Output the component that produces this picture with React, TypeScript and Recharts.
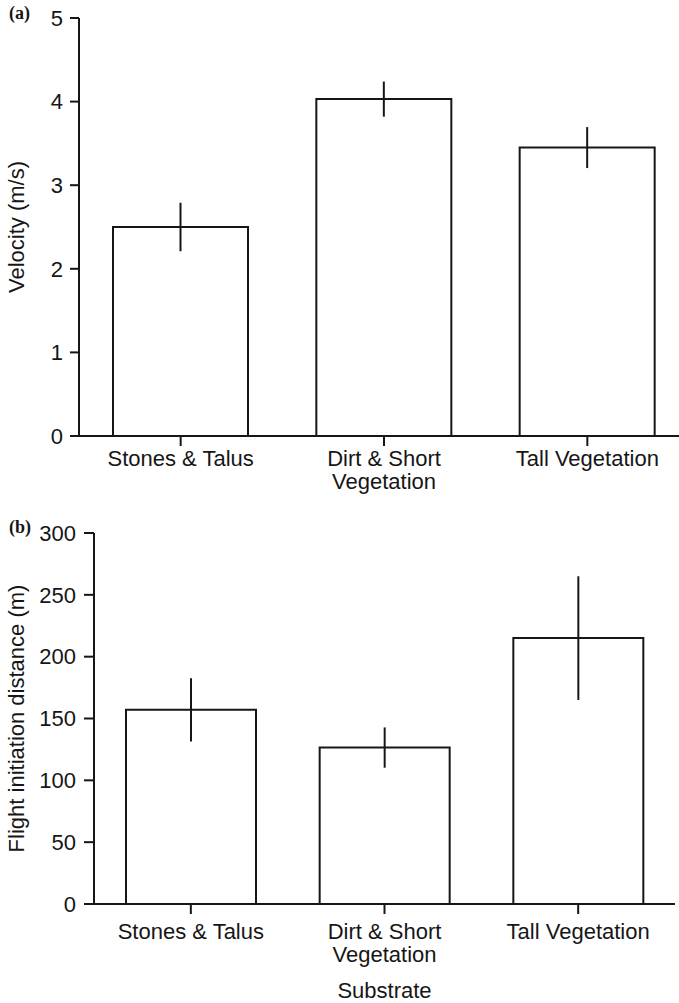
import React from 'react';
import { Bar, BarChart, ErrorBar, XAxis, YAxis } from 'recharts';

// substrate categories shared by both panels
const substrates = ['Stones & Talus', 'Dirt & Short Vegetation', 'Tall Vegetation'];
const substrateLines = [['Stones & Talus'], ['Dirt & Short', 'Vegetation'], ['Tall Vegetation']];

// (a) escape velocity, mean and error
const velocity = [2.5, 4.03, 3.45];
const velocityErr = [0.29, 0.21, 0.245];
const velocityTicks = [0, 1, 2, 3, 4, 5];

// (b) flight initiation distance, mean and error
const fid = [157, 126.5, 215];
const fidErr = [25.5, 16.3, 50];
const fidTicks = [0, 50, 100, 150, 200, 250, 300];

const INK = '#161616';
const FONT = '"Liberation Sans", Arial, Helvetica, sans-serif';
const FS = 22;

const velocityData = substrates.map((name, i) => ({ name, value: velocity[i], err: velocityErr[i] }));
const fidData = substrates.map((name, i) => ({ name, value: fid[i], err: fidErr[i] }));

function makeTick(lineHeight: number) {
  return function CategoryTick(props: any) {
    const { x, y, payload } = props;
    const lines = substrateLines[substrates.indexOf(payload.value)] || [payload.value];
    return (
      <text x={x} y={y} textAnchor="middle" fill={INK} fontFamily={FONT} fontSize={FS}>
        {lines.map((line, i) => (
          <tspan key={line} x={x} dy={i === 0 ? '0.72em' : lineHeight}>
            {line}
          </tspan>
        ))}
      </text>
    );
  };
}

function yLabel(text: string) {
  return {
    content: (props: any) => {
      const vb = props.viewBox || {};
      const cy = vb.y + vb.height / 2;
      return (
        <text
          x={24}
          y={cy}
          transform={`rotate(-90, 24, ${cy})`}
          textAnchor="middle"
          fill={INK}
          fontFamily={FONT}
          fontSize={FS}
        >
          {text}
        </text>
      );
    },
  };
}

const panelTag: React.CSSProperties = {
  position: 'absolute',
  fontFamily: '"Liberation Serif", "Times New Roman", serif',
  fontWeight: 'bold',
  fontSize: 18,
  lineHeight: '18px',
  color: INK,
};

export default function App() {
  return (
    <div
      style={{
        position: 'fixed',
        left: 0,
        top: 0,
        width: 679,
        height: 1003,
        overflow: 'hidden',
        background: '#fff',
      }}
    >
      <div style={{ position: 'absolute', left: 0, top: 0 }}>
        <BarChart width={700} height={500} data={velocityData} margin={{ top: 18, right: 11, left: 0, bottom: 4 }}>
          <XAxis
            dataKey="name"
            height={60}
            interval={0}
            tickSize={10}
            tickMargin={4}
            axisLine={{ stroke: INK, strokeWidth: 2 }}
            tickLine={{ stroke: INK, strokeWidth: 2 }}
            tick={makeTick(23)}
          />
          <YAxis
            width={79}
            domain={[0, 5]}
            ticks={velocityTicks}
            interval={0}
            tickSize={9}
            tickMargin={7}
            axisLine={{ stroke: INK, strokeWidth: 2 }}
            tickLine={{ stroke: INK, strokeWidth: 2 }}
            tick={{ fill: INK, fontFamily: FONT, fontSize: FS }}
            label={yLabel('Velocity (m/s)')}
          />
          <Bar dataKey="value" barSize={135} fill="#fff" stroke={INK} strokeWidth={2} isAnimationActive={false}>
            <ErrorBar dataKey="err" width={0} stroke={INK} strokeWidth={2} isAnimationActive={false} />
          </Bar>
        </BarChart>
      </div>

      <div style={{ position: 'absolute', left: 0, top: 500 }}>
        <BarChart width={679} height={503} data={fidData} margin={{ top: 33, right: 4, left: 0, bottom: 3 }}>
          <XAxis
            dataKey="name"
            height={96}
            interval={0}
            tickSize={10}
            tickMargin={9}
            axisLine={{ stroke: INK, strokeWidth: 2 }}
            tickLine={{ stroke: INK, strokeWidth: 2 }}
            tick={makeTick(23)}
            label={{
              content: (props: any) => {
                const vb = props.viewBox || {};
                return (
                  <text
                    x={vb.x + vb.width / 2}
                    y={vb.y + 94}
                    textAnchor="middle"
                    fill={INK}
                    fontFamily={FONT}
                    fontSize={FS}
                  >
                    Substrate
                  </text>
                );
              },
            }}
          />
          <YAxis
            width={94}
            domain={[0, 300]}
            ticks={fidTicks}
            interval={0}
            tickSize={10}
            tickMargin={8}
            axisLine={{ stroke: INK, strokeWidth: 2 }}
            tickLine={{ stroke: INK, strokeWidth: 2 }}
            tick={{ fill: INK, fontFamily: FONT, fontSize: FS }}
            label={yLabel('Flight initiation distance (m)')}
          />
          <Bar dataKey="value" barSize={130} fill="#fff" stroke={INK} strokeWidth={2} isAnimationActive={false}>
            <ErrorBar dataKey="err" width={0} stroke={INK} strokeWidth={2} isAnimationActive={false} />
          </Bar>
        </BarChart>
      </div>

      <span style={{ ...panelTag, left: 9, top: 4 }}>(a)</span>
      <span style={{ ...panelTag, left: 9, top: 518 }}>(b)</span>
    </div>
  );
}
